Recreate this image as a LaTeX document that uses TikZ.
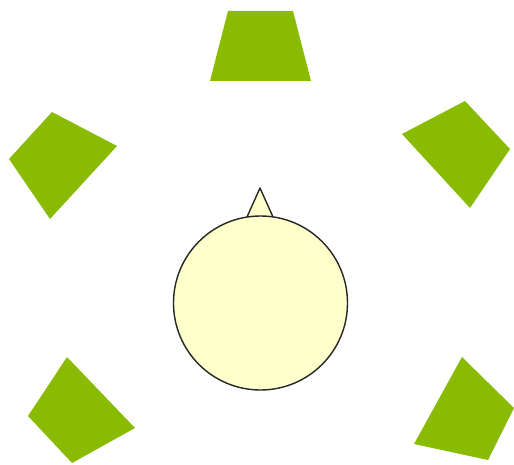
\documentclass[tikz,border=0pt]{standalone}
\begin{document}
\begin{tikzpicture}[x=1pt,y=-1pt,
  seat/.style={fill=seatgreen,draw=none},
  head/.style={fill=headyellow,draw=black!85,line width=1.4pt,line join=round}]
\definecolor{seatgreen}{RGB}{138,187,3}
\definecolor{headyellow}{RGB}{255,255,204}
\useasboundingbox (0,0) rectangle (514,465);
\fill[white] (0,0) rectangle (514,465);
% green seats
\path[seat] (228,11) -- (293,11) -- (311,81) -- (210,81) -- cycle;
\path[seat] (52,112) -- (117,146) -- (50,219) -- (9,159) -- cycle;
\path[seat] (465,101) -- (510,149) -- (470,208) -- (402,134) -- cycle;
\path[seat] (67,357) -- (135,428) -- (72,463) -- (28,416) -- cycle;
\path[seat] (462,357) -- (514,408) -- (488,460) -- (414,444) -- cycle;
% head with nose
\path[head] (247,217) -- (260,188) -- (273,217) -- cycle;
\path[head] (260.5,303) circle[radius=87];
\end{tikzpicture}
\end{document}
